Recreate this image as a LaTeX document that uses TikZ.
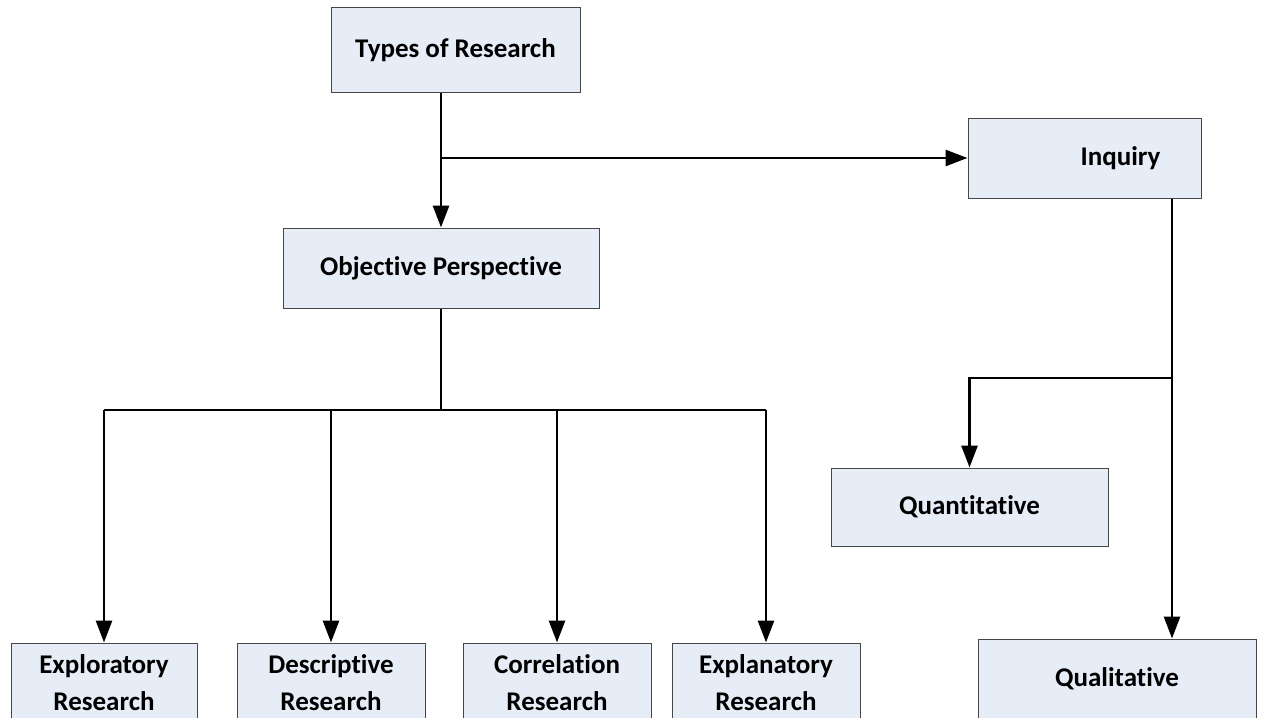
\documentclass[tikz,border=0pt]{standalone}
\usepackage{fontspec}
\setmainfont{Carlito}[Ligatures=NoCommon]
\usetikzlibrary{arrows.meta}
\definecolor{boxfill}{RGB}{231,237,247}
\definecolor{boxline}{RGB}{70,70,70}
\begin{document}
\begin{tikzpicture}[x=1pt,y=-1pt,
  box/.style={draw=boxline, line width=1pt, fill=boxfill, inner sep=0pt,
    align=center, font=\fontsize{27}{37}\selectfont\bfseries},
  link/.style={line width=2.8pt, -{Triangle[length=22pt,width=16pt]}},
  plain/.style={line width=2.8pt}]
\clip (0,0) rectangle (1268,717);
\fill[white] (0,0) rectangle (1268,717);

% boxes
\node[box, minimum width=249pt, minimum height=84pt] (top) at (455.5,50) {Types of Research};
\node[box, minimum width=316pt, minimum height=80pt] (objp) at (441,268) {Objective Perspective};
\node[box, minimum width=233pt, minimum height=80pt] (inq) at (1084.5,158) {\hspace*{72pt}Inquiry};
\node[box, minimum width=277pt, minimum height=78pt] (quant) at (969.5,507) {Quantitative};
\node[box, minimum width=278pt, minimum height=80pt] (qual) at (1117,679) {Qualitative};
\node[box, minimum width=186pt, minimum height=80pt] (e1) at (104,683) {Exploratory\\Research};
\node[box, minimum width=188pt, minimum height=80pt] (e2) at (331,683) {Descriptive\\Research};
\node[box, minimum width=188pt, minimum height=80pt] (e3) at (557,683) {Correlation\\Research};
\node[box, minimum width=188pt, minimum height=80pt] (e4) at (766,683) {Explanatory\\Research};

% junction points
\coordinate (split) at (441,158);
\coordinate (bus) at (441,410);
\coordinate (qx) at (1172,378);

% Types of Research -> Objective Perspective / Inquiry
\draw[link] (top.south -| objp.north) -- (objp.north);
\draw[link] (split) -- (inq.west);

% Objective Perspective -> four research kinds
\draw[plain] (objp.south) -- (bus);
\draw[plain] (e1.north |- bus) -- (e4.north |- bus);
\foreach \n in {e1,e2,e3,e4}
  \draw[link] (\n.north |- bus) -- (\n.north);

% Inquiry -> Quantitative / Qualitative
\draw[link] (inq.south -| qx) -- (qual.north -| qx);
\draw[link] (qx) -- (quant.north |- qx) -- (quant.north);
\end{tikzpicture}
\end{document}
